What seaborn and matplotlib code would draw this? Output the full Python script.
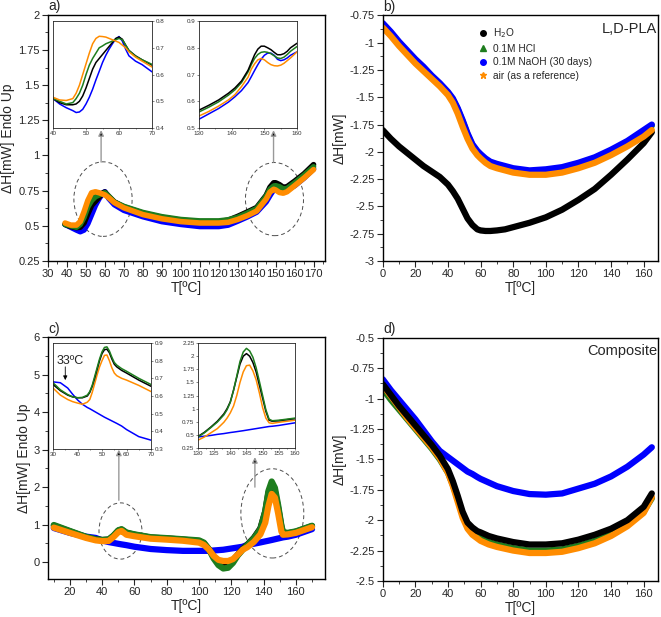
import matplotlib
matplotlib.use("Agg")
import matplotlib.pyplot as plt
from matplotlib.ticker import MultipleLocator, FuncFormatter
from matplotlib.patches import Ellipse
from matplotlib.lines import Line2D
import seaborn as sns

# Farben der vier Proben
farben = {'H2O': '#000000', 'HCl': '#1e7d1e', 'NaOH': '#0000ff', 'air': '#ff8c00'}

# ---- Panel a) L,D-PLA, Aufheizkurve ----
a_x = [39, 42, 45, 47, 49, 51, 53, 55, 57, 59, 60, 62, 65, 70, 80, 90, 100, 110, 120, 125,
       130, 135, 140, 145, 147, 149, 150, 152, 154, 156, 160, 165, 170]
a_h2o = [.51, .495, .487, .49, .52, .585, .645, .675, .705, .735, .74, .71, .67, .635, .59, .56, .54, .53, .53, .54,
         .567, .598, .63, .716, .774, .806, .806, .793, .774, .778, .817, .87, .935]
a_hcl = [.51, .50, .49, .51, .56, .635, .68, .707, .72, .73, .735, .71, .668, .638, .595, .565, .545, .535, .535, .543,
         .56, .59, .623, .71, .76, .783, .785, .778, .762, .765, .805, .86, .92]
a_air = [.52, .505, .505, .53, .60, .68, .735, .742, .735, .725, .72, .70, .665, .628, .58, .55, .53, .52, .52, .525,
         .545, .572, .605, .69, .74, .76, .755, .737, .732, .742, .785, .84, .90]
a_naoh = [.51, .49, .47, .458, .47, .515, .58, .645, .695, .733, .742, .695, .65, .61, .565, .53, .51, .495, .495, .505,
          .533, .563, .597, .67, .715, .757, .772, .78, .757, .755, .785, .84, .905]

# Inset a) 40-70 °C
a1_x = [40, 42, 44, 46, 47, 48, 49, 50, 51, 52, 53, 54, 55, 56, 57, 58, 59, 60, 61, 62, 63, 65, 67, 70]
a1_naoh = [.51, .49, .476, .465, .458, .46, .47, .49, .515, .545, .58, .612, .645, .672, .695, .715, .733, .742,
           .725, .695, .67, .65, .637, .61]
a1_h2o = [.51, .495, .487, .487, .49, .50, .52, .55, .585, .62, .645, .66, .675, .69, .705, .72, .735, .74,
          .732, .71, .69, .67, .655, .635]
a1_hcl = [.51, .50, .49, .495, .51, .53, .56, .60, .635, .66, .68, .70, .707, .715, .72, .725, .73, .735,
          .73, .71, .69, .668, .655, .638]
a1_air = [.515, .505, .503, .51, .53, .56, .60, .64, .68, .715, .735, .743, .742, .74, .735, .73, .725, .72,
          .71, .70, .685, .665, .65, .628]

# Inset a) 130-160 °C
a2_x = [130, 133, 136, 139, 141, 143, 145, 146, 147, 148, 149, 150, 151, 152, 153, 154, 155, 156, 157, 158, 160]
a2_h2o = [.567, .585, .605, .63, .65, .676, .716, .745, .774, .795, .806, .806, .80, .793, .783, .774, .774, .778,
          .787, .80, .817]
a2_hcl = [.56, .578, .598, .623, .643, .67, .71, .737, .76, .775, .783, .785, .783, .778, .77, .762, .76, .765,
          .775, .787, .805]
a2_air = [.545, .562, .582, .605, .625, .655, .69, .72, .74, .755, .76, .755, .745, .737, .733, .732, .735, .742,
          .752, .762, .785]
a2_naoh = [.533, .553, .573, .597, .617, .64, .67, .692, .715, .737, .757, .772, .78, .78, .772, .757, .752, .755,
           .762, .772, .785]

# ---- Panel b) L,D-PLA, Abkühlkurve ----
b_x = [0, 5, 10, 15, 20, 25, 30, 35, 40, 43, 46, 49, 52, 55, 58, 60, 63, 66, 70, 75, 80, 90, 100, 110, 120,
       130, 140, 150, 160, 165]
b_h2o = [-1.80, -1.88, -1.95, -2.01, -2.07, -2.13, -2.18, -2.23, -2.30, -2.36, -2.43, -2.52, -2.61, -2.67, -2.71,
         -2.72, -2.725, -2.725, -2.72, -2.71, -2.69, -2.65, -2.60, -2.53, -2.44, -2.34, -2.21, -2.07, -1.92, -1.82]
b_hcl = [-0.83, -0.91, -1.00, -1.08, -1.16, -1.23, -1.31, -1.38, -1.46, -1.52, -1.61, -1.72, -1.84, -1.94, -2.00,
         -2.03, -2.07, -2.10, -2.12, -2.14, -2.16, -2.18, -2.17, -2.15, -2.11, -2.06, -1.99, -1.91, -1.81, -1.76]
b_naoh = [-0.82, -0.90, -0.99, -1.07, -1.15, -1.22, -1.30, -1.37, -1.45, -1.51, -1.60, -1.71, -1.83, -1.93, -1.99,
          -2.02, -2.06, -2.09, -2.11, -2.13, -2.15, -2.17, -2.16, -2.14, -2.10, -2.05, -1.98, -1.90, -1.80, -1.75]
b_air = [-0.86, -0.94, -1.03, -1.11, -1.19, -1.26, -1.33, -1.40, -1.48, -1.55, -1.65, -1.77, -1.88, -1.97, -2.03,
         -2.06, -2.10, -2.13, -2.15, -2.17, -2.19, -2.21, -2.21, -2.19, -2.15, -2.10, -2.03, -1.95, -1.86, -1.80]

# ---- Panel c) Komposit, Aufheizkurve ----
c_x = [10, 20, 30, 36, 40, 44, 47, 50, 52, 55, 60, 70, 80, 90, 100, 103, 106, 109, 112, 115, 118, 121, 124,
       127, 130, 134, 138, 141, 143, 145, 147, 149, 151, 152, 155, 160, 170]
c_h2o = [.97, .82, .665, .605, .59, .60, .70, .84, .865, .78, .73, .655, .63, .60, .56, .50, .35, .15, .0, -.07,
         -.05, .05, .2, .35, .47, .65, .90, 1.35, 1.85, 2.05, 1.88, 1.45, .95, .78, .77, .81, .96]
c_hcl = [.99, .83, .675, .608, .59, .605, .71, .85, .878, .79, .74, .665, .64, .61, .58, .52, .35, .10, -.08, -.17,
         -.15, -.02, .18, .33, .46, .64, .88, 1.35, 1.9, 2.15, 1.98, 1.52, .98, .80, .78, .82, .97]
c_air = [.92, .78, .645, .58, .56, .565, .67, .80, .832, .73, .69, .625, .60, .57, .52, .46, .34, .17, .06, .03,
         .03, .08, .2, .33, .40, .54, .74, 1.05, 1.5, 1.82, 1.72, 1.3, .82, .73, .74, .78, .93]
c_naoh = [.91, .78, .68, .645, .578, .535, .512, .488, .473, .452, .41, .35, .32, .30, .30, .30, .30, .31, .32,
          .33, .35, .37, .39, .41, .46, .49, .525, .553, .571, .59, .61, .63, .65, .66, .68, .73, .88]

# Inset c) 30-70 °C
c1_x = [30, 33, 36, 38, 40, 42, 44, 45, 46, 47, 48, 49, 50, 51, 52, 53, 54, 55, 56, 58, 60, 65, 70]
c1_naoh = [.68, .675, .645, .61, .578, .553, .535, .528, .52, .512, .504, .496, .488, .48, .473, .466, .459,
           .452, .445, .43, .41, .37, .35]
c1_h2o = [.665, .63, .605, .595, .59, .59, .60, .62, .655, .70, .75, .80, .84, .862, .865, .845, .81, .78, .765,
          .745, .73, .69, .655]
c1_hcl = [.675, .635, .608, .595, .59, .592, .605, .625, .66, .71, .76, .81, .85, .875, .878, .855, .82, .79,
          .775, .755, .74, .70, .665]
c1_air = [.645, .605, .58, .568, .56, .553, .565, .58, .62, .67, .72, .765, .80, .83, .832, .80, .76, .73, .715,
          .70, .69, .66, .625]

# Inset c) 130-160 °C
c2_x = [130, 132, 134, 136, 138, 139, 140, 141, 142, 143, 144, 145, 146, 147, 148, 149, 150, 151, 152, 153,
        155, 160]
c2_h2o = [.47, .55, .65, .76, .90, 1.0, 1.13, 1.35, 1.6, 1.85, 2.0, 2.05, 2.0, 1.88, 1.7, 1.45, 1.2, .95, .78,
          .76, .77, .81]
c2_hcl = [.46, .54, .64, .745, .88, .98, 1.12, 1.35, 1.62, 1.9, 2.08, 2.15, 2.1, 1.98, 1.78, 1.52, 1.25, .98,
          .80, .77, .78, .82]
c2_air = [.40, .46, .54, .62, .74, .82, .92, 1.05, 1.25, 1.5, 1.7, 1.82, 1.83, 1.72, 1.55, 1.3, 1.02, .82, .73,
          .72, .74, .78]
c2_naoh = [.46, .475, .49, .51, .525, .535, .545, .553, .562, .571, .58, .59, .60, .61, .62, .63, .64, .65, .66,
           .665, .68, .73]

# ---- Panel d) Komposit, Abkühlkurve ----
d_x = [0, 5, 10, 15, 20, 25, 30, 35, 40, 43, 46, 49, 52, 55, 58, 60, 65, 70, 80, 90, 100, 110, 120, 130, 140,
       150, 160, 165]
d_naoh = [-0.84, -0.93, -1.01, -1.09, -1.17, -1.26, -1.35, -1.43, -1.48, -1.51, -1.54, -1.57, -1.60, -1.62,
          -1.645, -1.66, -1.69, -1.72, -1.76, -1.785, -1.79, -1.78, -1.74, -1.70, -1.64, -1.56, -1.46, -1.40]
d_h2o = [-0.88, -0.97, -1.06, -1.14, -1.22, -1.30, -1.38, -1.47, -1.58, -1.68, -1.80, -1.93, -2.02, -2.06, -2.09,
         -2.10, -2.13, -2.15, -2.18, -2.20, -2.20, -2.19, -2.16, -2.12, -2.07, -2.00, -1.89, -1.78]
d_hcl = [-0.92, -1.01, -1.09, -1.17, -1.25, -1.33, -1.41, -1.50, -1.61, -1.71, -1.83, -1.96, -2.05, -2.10, -2.13,
         -2.15, -2.18, -2.20, -2.23, -2.25, -2.25, -2.24, -2.21, -2.17, -2.11, -2.04, -1.93, -1.82]
d_air = [-0.89, -0.98, -1.07, -1.16, -1.24, -1.32, -1.40, -1.49, -1.61, -1.72, -1.85, -1.98, -2.07, -2.12, -2.15,
         -2.17, -2.20, -2.22, -2.25, -2.27, -2.27, -2.26, -2.23, -2.19, -2.13, -2.05, -1.94, -1.81]

legend_labels = ['H$_2$O', '0.1M HCl', '0.1M NaOH (30 days)', 'air (as a reference)']


sns.set_style("ticks")
plt.rcParams['font.family'] = ['Liberation Sans', 'DejaVu Sans']
plt.rcParams['axes.unicode_minus'] = False

fig = plt.figure(figsize=(6.61, 6.17), dpi=100)

fmt = FuncFormatter(lambda v, p: '%g' % round(v, 3))


def kurven(ax, x, serien, lw):
    # serien: Liste aus (Werte, Farbe) in Zeichenreihenfolge
    for werte, farbe in serien:
        sns.lineplot(x=x, y=werte, ax=ax, color=farbe, lw=lw, legend=False,
                     solid_capstyle='round', solid_joinstyle='round')


def hauptachse(ax, xlim, ylim, xmaj, xmin, ymaj, ymin, ylabel):
    ax.set_xlim(*xlim)
    ax.set_ylim(*ylim)
    ax.xaxis.set_major_locator(MultipleLocator(xmaj))
    ax.xaxis.set_minor_locator(MultipleLocator(xmin))
    ax.yaxis.set_major_locator(MultipleLocator(ymaj))
    ax.yaxis.set_minor_locator(MultipleLocator(ymin))
    ax.xaxis.set_major_formatter(fmt)
    ax.yaxis.set_major_formatter(fmt)
    ax.tick_params(which='major', length=4, width=0.8, labelsize=8, pad=2)
    ax.tick_params(which='minor', length=2, width=0.6)
    for s in ax.spines.values():
        s.set_linewidth(1.0)
        s.set_color('black')
    ax.set_xlabel('T[ºC]', fontsize=10, labelpad=1)
    ax.set_ylabel(ylabel, fontsize=10, labelpad=2)


def inset(pos, x, serien, xlim, ylim, xstep, ystep, rechts):
    ax = fig.add_axes(pos)
    kurven(ax, x, serien, 1.1)
    ax.set_xlim(*xlim)
    ax.set_ylim(*ylim)
    ax.xaxis.set_major_locator(MultipleLocator(xstep))
    ax.xaxis.set_minor_locator(MultipleLocator(xstep / 2))
    ax.yaxis.set_major_locator(MultipleLocator(ystep))
    ax.xaxis.set_major_formatter(fmt)
    ax.yaxis.set_major_formatter(fmt)
    if rechts:
        ax.yaxis.tick_right()
    ax.tick_params(which='both', labelsize=4.5, length=1.5, width=0.4, pad=1, labelcolor='#333333')
    ax.tick_params(which='minor', length=1)
    for s in ax.spines.values():
        s.set_linewidth(0.6)
        s.set_color('#222222')
    ax.set_xlabel('')
    ax.set_ylabel('')
    return ax


def pfeil(ax, x, y0, y1):
    ax.annotate('', xy=(x, y1), xytext=(x, y0),
                arrowprops=dict(arrowstyle='-|>', ec='0.6', fc='black', lw=1.0,
                                mutation_scale=8, shrinkA=0, shrinkB=0))


def ellipse(ax, mitte, breite, hoehe):
    ax.add_patch(Ellipse(mitte, breite, hoehe, fill=False, ls=(0, (4, 3)), lw=0.7, ec='0.3'))


# Panel a
ax_a = fig.add_axes([0.0726, 0.577, 0.419, 0.399])
kurven(ax_a, a_x, [(a_naoh, farben['NaOH']), (a_h2o, farben['H2O']), (a_hcl, farben['HCl']),
                   (a_air, farben['air'])], 4)
hauptachse(ax_a, (30, 176), (0.25, 2.0), 10, 5, 0.25, 0.125, 'ΔH[mW] Endo Up')
ellipse(ax_a, (59, 0.69), 30.7, 0.53)
ellipse(ax_a, (149.4, 0.69), 30.6, 0.52)
pfeil(ax_a, 58, 0.953, 1.18)
pfeil(ax_a, 148.9, 0.953, 1.18)
ax_a.text(0.003, 1.006, 'a)', transform=ax_a.transAxes, fontsize=10, va='bottom')

inset([0.0802, 0.7925, 0.1498, 0.1734], a1_x,
      [(a1_naoh, farben['NaOH']), (a1_h2o, farben['H2O']), (a1_hcl, farben['HCl']), (a1_air, farben['air'])],
      (40, 70), (0.4, 0.8), 10, 0.1, True)
inset([0.3011, 0.7925, 0.1483, 0.1734], a2_x,
      [(a2_naoh, farben['NaOH']), (a2_air, farben['air']), (a2_hcl, farben['HCl']), (a2_h2o, farben['H2O'])],
      (130, 160), (0.5, 0.9), 10, 0.1, False)

# Panel b
ax_b = fig.add_axes([0.579, 0.577, 0.416, 0.398])
kurven(ax_b, b_x, [(b_h2o, farben['H2O']), (b_hcl, farben['HCl']), (b_naoh, farben['NaOH']),
                   (b_air, farben['air'])], 4.5)
hauptachse(ax_b, (0, 168.6), (-3, -0.75), 20, 10, 0.25, 0.125, 'ΔH[mW]')
ax_b.text(0.998, 0.975, 'L,D-PLA', transform=ax_b.transAxes, fontsize=10.5, ha='right', va='top')
ax_b.text(0.003, 1.006, 'b)', transform=ax_b.transAxes, fontsize=10, va='bottom')
griffe = [Line2D([], [], ls='', marker='o', ms=4, color=farben['H2O']),
          Line2D([], [], ls='', marker='^', ms=4, color=farben['HCl']),
          Line2D([], [], ls='', marker='o', ms=4, color=farben['NaOH']),
          Line2D([], [], ls='', marker='*', ms=5, color=farben['air'])]
ax_b.legend(griffe, legend_labels, loc='upper left', bbox_to_anchor=(0.345, 0.955), frameon=False,
            fontsize=7.3, borderaxespad=0, borderpad=0, labelspacing=0.35, handlelength=1.0,
            handletextpad=0.5)

# Panel c
ax_c = fig.add_axes([0.0726, 0.0616, 0.419, 0.392])
kurven(ax_c, c_x, [(c_naoh, farben['NaOH']), (c_h2o, farben['H2O']), (c_hcl, farben['HCl']),
                   (c_air, farben['air'])], 4.5)
hauptachse(ax_c, (6.4, 178), (-0.45, 6), 20, 10, 1, 0.5, 'ΔH[mW] Endo Up')
ellipse(ax_c, (51.3, 0.83), 26.6, 1.5)
ellipse(ax_c, (145.4, 1.3), 39, 2.38)
pfeil(ax_c, 50.3, 1.65, 3.0)
pfeil(ax_c, 134.6, 2.0, 2.8)
ax_c.text(0.003, 1.006, 'c)', transform=ax_c.transAxes, fontsize=10, va='bottom')

ax_c1 = inset([0.0802, 0.2723, 0.1483, 0.1718], c1_x,
              [(c1_naoh, farben['NaOH']), (c1_air, farben['air']), (c1_h2o, farben['H2O']),
               (c1_hcl, farben['HCl'])],
              (30, 70), (0.3, 0.9), 10, 0.1, True)
ax_c1.text(37, 0.80, '33ºC', fontsize=9, ha='center', va='center')
ax_c1.annotate('', xy=(35, 0.69), xytext=(35, 0.765),
               arrowprops=dict(arrowstyle='-|>', color='black', lw=0.6, mutation_scale=6,
                               shrinkA=0, shrinkB=0))
inset([0.2995, 0.2739, 0.1467, 0.170], c2_x,
      [(c2_naoh, farben['NaOH']), (c2_air, farben['air']), (c2_h2o, farben['H2O']), (c2_hcl, farben['HCl'])],
      (130, 160), (0.25, 2.25), 5, 0.25, False)

# Panel d
ax_d = fig.add_axes([0.579, 0.0584, 0.416, 0.394])
kurven(ax_d, d_x, [(d_naoh, farben['NaOH']), (d_hcl, farben['HCl']), (d_air, farben['air']),
                   (d_h2o, farben['H2O'])], 4.5)
hauptachse(ax_d, (0, 168.6), (-2.5, -0.5), 20, 10, 0.25, 0.125, 'ΔH[mW]')
ax_d.text(0.998, 0.975, 'Composite', transform=ax_d.transAxes, fontsize=10.5, ha='right', va='top')
ax_d.text(0.003, 1.006, 'd)', transform=ax_d.transAxes, fontsize=10, va='bottom')

fig.savefig('out.png', dpi=100)
